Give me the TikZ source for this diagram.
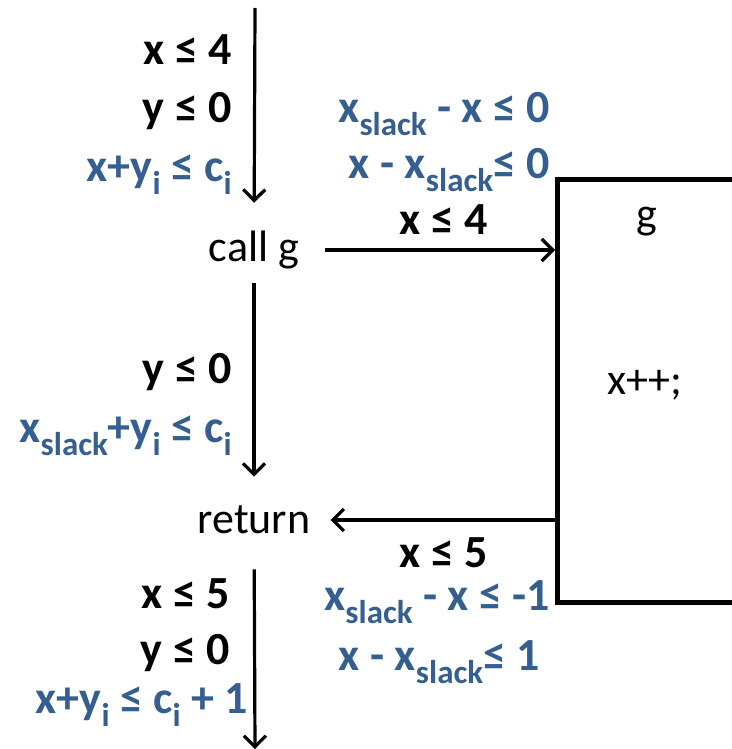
\documentclass[tikz,border=0pt]{standalone}
\usepackage{fontspec}
\setmainfont{Carlito}
\usetikzlibrary{arrows.meta}
\definecolor{slackblue}{RGB}{54,95,145}
\newcommand{\low}[1]{\raisebox{-0.3em}{\fontsize{33}{33}\selectfont #1}}
\newcommand{\xs}{x\low{slack}}
\newcommand{\yi}{y\low{i}}
\newcommand{\ci}{c\low{i}}

\begin{document}
\begin{tikzpicture}[x=1pt, y=-1pt,
    every node/.style={inner sep=0pt, font=\fontsize{44}{50}\selectfont},
    cons/.style={font=\fontsize{46}{52}\selectfont\bfseries},
    slack/.style={cons, text=slackblue},
    flow/.style={-{Straight Barb[length=11pt, width=22pt]}, line width=3.2pt}]
    \useasboundingbox (0,0) rectangle (731,749);
    % statements
    \node (callg) at (254,250) {call g};
    \node (ret) at (254,520) {return};
    \node[draw, line width=5pt, anchor=north west, minimum width=300pt, minimum height=423pt] (gbox) at (555,177) {};
    \node (gname) at (647,222) {g};
    \node (gbody) at (645,385) {x++;};
    \coordinate (top) at (255,8);
    \coordinate (bot) at (255,749);
    % connectors
    \draw[flow, shorten >=28pt] (top) -- (callg);
    \draw[flow, shorten <=14pt, shorten >=29pt] (callg) -- (ret);
    \draw[flow, shorten <=26pt] (callg) -- (callg -| gbox.west);
    \draw[flow, shorten >=20pt] (ret -| gbox.west) -- (ret);
    \draw[flow, shorten <=35pt] (ret) -- (bot);
    % constraints before the call
    \node[cons, anchor=base east] (pre1) at (232,65) {x ≤ 4};
    \node[cons, anchor=base east] (pre2) at (232,122) {y ≤ 0};
    \node[slack, anchor=base east] (pre3) at (232,181) {x+\yi{} ≤ \ci};
    \node[slack, anchor=base east] (pre4) at (550,122) {\xs{} - x ≤ 0};
    \node[slack, anchor=base east] (pre5) at (550,178) {x - \xs{}≤ 0};
    \node[cons, anchor=base] (arg) at (444,234) {x ≤ 4};
    % constraints inside the call
    \node[cons, anchor=base east] (mid1) at (232,383) {y ≤ 0};
    \node[slack, anchor=base east] (mid2) at (232,442) {\xs+\yi{} ≤ \ci};
    % constraints after the return
    \node[cons, anchor=base] (res) at (444,567) {x ≤ 5};
    \node[cons, anchor=base east] (post1) at (230,608) {x ≤ 5};
    \node[cons, anchor=base east] (post2) at (230,664) {y ≤ 0};
    \node[slack, anchor=base east] (post3) at (248,713) {x+\yi{} ≤ \ci{} + 1};
    \node[slack, anchor=base east] (post4) at (550,610) {\xs{} - x ≤ -1};
    \node[slack, anchor=base east] (post5) at (540,670) {x - \xs{}≤ 1};
\end{tikzpicture}
\end{document}
